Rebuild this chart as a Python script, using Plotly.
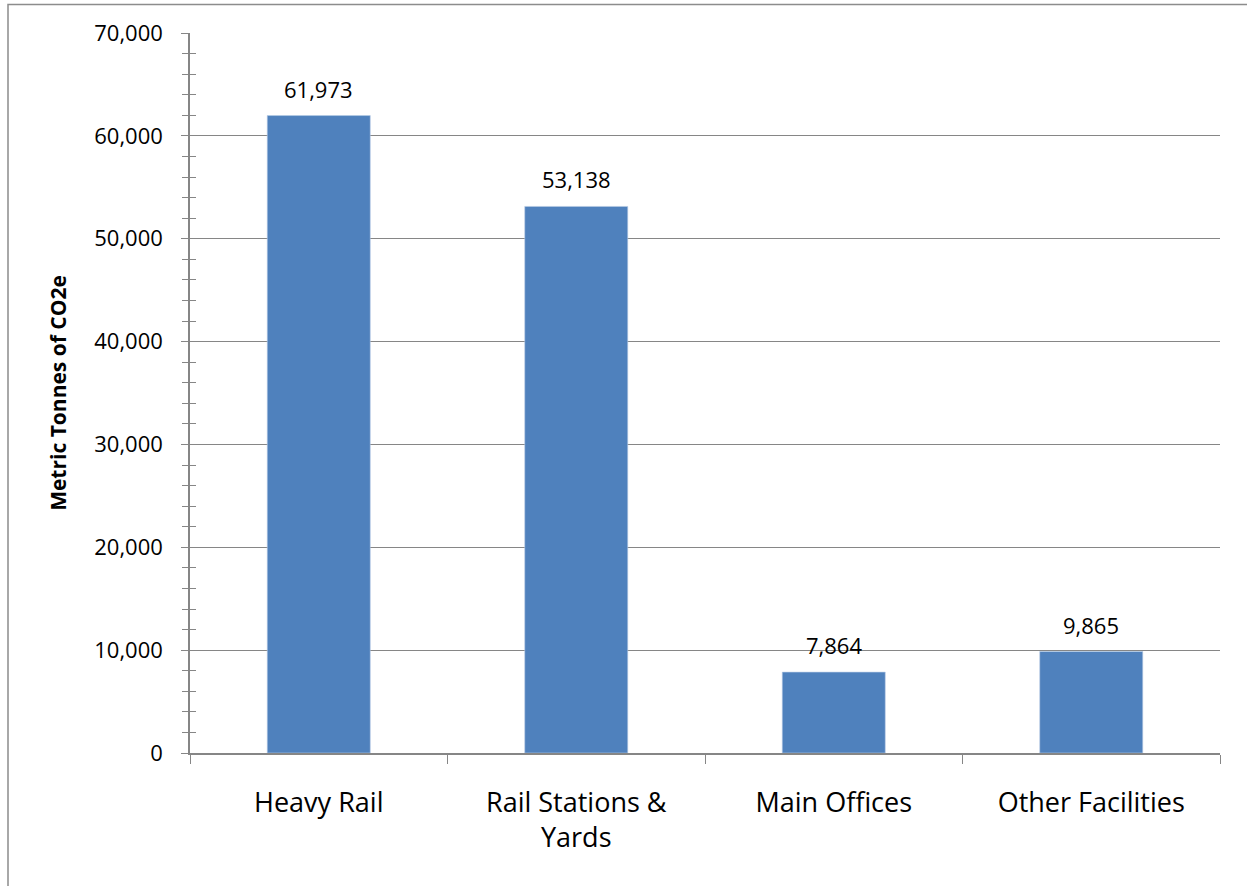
import plotly.graph_objects as go

categories = ["Heavy Rail", "Rail Stations &<br>Yards", "Main Offices", "Other Facilities"]
emissions = [61973, 53138, 7864, 9865]
y_tick_values = [0, 10000, 20000, 30000, 40000, 50000, 60000, 70000]
y_tick_labels = ["0", "10,000", "20,000", "30,000", "40,000", "50,000", "60,000", "70,000"]

FONT = "Open Sans"
GRAY = "#868686"

fig = go.Figure()
fig.add_trace(go.Bar(
    x=categories,
    y=emissions,
    marker=dict(color="#4F81BD", line=dict(color="#B9CDE5", width=0.6)),
    width=0.4,
    hoverinfo="skip",
))

# value labels sitting above each bar
for cat, val in zip(categories, emissions):
    fig.add_annotation(
        x=cat, y=val, text=f"{val:,}", showarrow=False,
        yanchor="bottom", yshift=10,
        font=dict(family=FONT, size=22, color="#000000"),
    )

fig.update_layout(
    width=1247,
    height=886,
    margin=dict(l=190, r=27, t=33, b=133),
    paper_bgcolor="white",
    plot_bgcolor="white",
    showlegend=False,
    bargap=0.6,
    font=dict(family=FONT, color="#000000"),
    xaxis=dict(
        tickson="boundaries",
        ticks="outside",
        ticklen=9,
        tickcolor=GRAY,
        showline=True,
        linecolor=GRAY,
        linewidth=1.5,
        showgrid=False,
        ticklabelstandoff=25,
        tickfont=dict(family=FONT, size=27),
    ),
    yaxis=dict(
        range=[0, 70000],
        tickvals=y_tick_values,
        ticktext=y_tick_labels,
        ticks="outside",
        ticklen=7,
        tickcolor=GRAY,
        showline=True,
        linecolor=GRAY,
        linewidth=1.5,
        showgrid=True,
        gridcolor=GRAY,
        gridwidth=1,
        zeroline=False,
        ticklabelstandoff=14,
        tickfont=dict(family=FONT, size=22),
        title=dict(text="<b>Metric Tonnes of CO2e</b>", font=dict(family=FONT, size=21), standoff=22),
        minor=dict(dtick=2000, ticks="outside", ticklen=6, tickcolor=GRAY, showgrid=False),
    ),
    yaxis2=dict(
        overlaying="y",
        matches="y",
        side="left",
        anchor="x",
        showticklabels=False,
        showgrid=False,
        zeroline=False,
        tickmode="linear",
        tick0=0,
        dtick=2000,
        ticks="inside",
        ticklen=6,
        tickcolor=GRAY,
    ),
)

# invisible trace so the inner minor-tick axis is rendered
fig.add_trace(go.Scatter(x=[categories[0]], y=[0], yaxis="y2", mode="markers",
                         marker=dict(opacity=0), hoverinfo="skip", showlegend=False))

# outer chart frame, running off the right and bottom edges
fig.add_shape(type="rect", xref="paper", yref="paper",
              x0=(8 - 190) / 1030, x1=1.1, y0=-0.3, y1=1 + (33 - 4.5) / 720,
              line=dict(color="#8C8C8C", width=1.5), fillcolor="rgba(0,0,0,0)", layer="below")

fig.write_html("out.html")
